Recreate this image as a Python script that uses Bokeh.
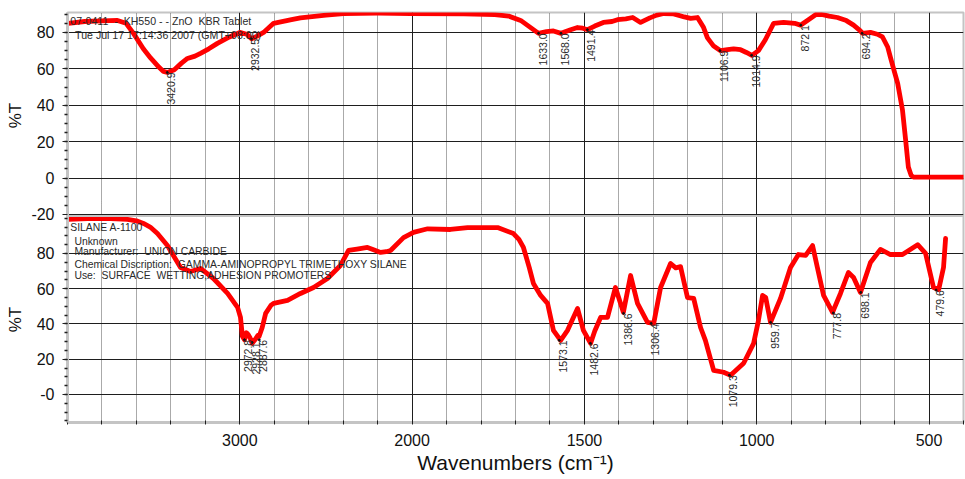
import numpy as np
from math import pi
from bokeh.plotting import figure
from bokeh.models import ColumnDataSource, FixedTicker, Label, Span
from bokeh.core.properties import value
from bokeh.embed import file_html
from bokeh.resources import INLINE

# ---------------- data ----------------
# Upper spectrum: 07-0411 KH550 - ZnO KBr tablet
top_wn = [3996, 3900, 3800, 3710, 3660, 3617, 3560, 3518, 3470, 3443,
          3420, 3380, 3340, 3304, 3260, 3228, 3180, 3130, 3060, 3000,
          2960, 2932, 2900, 2862, 2804, 2700, 2648, 2500, 2398, 2200,
          2010, 1850, 1760, 1720, 1685, 1655, 1633, 1610, 1590, 1568,
          1540, 1520, 1505, 1491, 1470, 1445, 1420, 1404, 1380, 1360,
          1337, 1310, 1290, 1270, 1241, 1210, 1192, 1172, 1155, 1143,
          1125, 1105, 1085, 1067, 1047, 1030, 1014, 995, 975, 951,
          922, 890, 873, 853, 824, 790, 766, 740, 719, 700,
          693, 670, 650, 635, 620, 612, 600, 591, 577, 568,
          560, 552, 545, 500, 400]
top_t = [85, 86, 86.3, 86.6, 85, 79.5, 71, 66, 61, 58.6,
         58, 59.5, 63, 65.7, 67, 68.5, 71, 74, 77.5, 80,
         79, 76.5, 78, 80, 85, 87, 88, 89.5, 90.4, 90.6,
         90.4, 90.2, 89.8, 89, 86.6, 82.5, 79.5, 80.5, 80.8, 79.5,
         81.5, 82.7, 82.3, 81.5, 83.5, 85.5, 86, 87, 87.5, 88.2,
         85.5, 88, 89.5, 90.4, 90.2, 88.5, 87.7, 88.2, 83, 77,
         72.5, 70, 70.5, 71, 70.5, 69, 67.4, 70, 76, 85,
         85.5, 85, 84, 86.6, 90.4, 89, 88.2, 86.5, 84, 81,
         79.5, 80, 79, 77.5, 72, 66.3, 58, 52, 37.3, 21,
         6, 1.5, 0.5, 0.5, 0.5]
top_peak_wn = [3420.9, 2932.5, 1633.0, 1568.0, 1491.4, 1106.9, 1014.9, 872.1, 694.2]
top_peak_t = [58, 76.5, 79.5, 79.5, 81.5, 70, 67.4, 84, 79.5]
top_peak_lab = ["3420.9", "2932.5", "1633.0", "1568.0", "1491.4", "1106.9", "1014.9", "872.1", "694.2"]

# Lower spectrum: SILANE A-1100 (reference library)
bot_wn = [3996, 3884, 3750, 3652, 3600, 3559, 3520, 3478, 3420, 3344,
          3286, 3228, 3153, 3071, 3013, 2996, 2985, 2972.8, 2962, 2952,
          2940, 2928.1, 2912, 2895, 2887.6, 2870, 2850, 2820, 2804, 2723,
          2648, 2572, 2491, 2416, 2369, 2320, 2259, 2220, 2183, 2150,
          2125, 2050, 1996, 1955, 1889, 1839, 1752, 1706, 1690, 1677,
          1660, 1648, 1627, 1607, 1590, 1569, 1549, 1520, 1503, 1482,
          1470, 1453, 1433, 1410, 1387, 1366, 1346, 1317, 1299, 1279,
          1250, 1235, 1221, 1201, 1183, 1163, 1149, 1125, 1096, 1076,
          1038, 1009, 995, 983, 974, 960, 931, 902, 879, 858,
          838, 824, 806, 780, 757, 734, 719, 699, 670, 641,
          612, 577, 533, 510, 487, 472, 458, 452]
bot_t = [99.3, 99.8, 99.8, 99.3, 98.5, 97, 95, 91.3, 84.5, 72,
         69.8, 71.5, 65.8, 57.3, 49.4, 43.7, 33, 31, 35, 34,
         32, 29, 31, 33.5, 33, 38, 46, 50.5, 51.7, 53.4,
         57.3, 60.7, 65.8, 73.2, 81.7, 82.5, 83.4, 82, 80.6, 81,
         81.7, 89, 92, 94, 93.6, 94.7, 94.7, 91.3, 88, 83.4,
         72, 63, 56.2, 51.7, 36.4, 30.7, 36.4, 48.8, 36.4, 29,
         36, 43.7, 43.7, 60.7, 46.6, 67.5, 51.7, 40.9, 40.3, 60.7,
         74.3, 71.8, 72.5, 55, 54.5, 38, 30.7, 13.7, 12.6, 10.9,
         17.7, 29, 42, 56.2, 55, 40.9, 54.5, 72, 79.4, 78.9,
         84.5, 72, 56.2, 46.6, 57.3, 69.2, 66.4, 57.9, 74.9, 82.3,
         79.4, 79.4, 85, 80, 60.7, 59.6, 72, 88.5]
bot_peak_wn = [2972.8, 2928.1, 2887.6, 1573.1, 1482.6, 1386.6, 1306.4, 1079.3, 959.7, 777.8, 698.1, 479.6]
bot_peak_t = [31, 29.5, 31, 30.7, 29, 46, 40.3, 10.9, 40.9, 46.2, 57.9, 59.2]
bot_peak_lab = ["2972.8", "2928.1", "2887.6", "1573.1", "1482.6", "1386.6", "1306.4",
                "1079.3", "959.7", "777.8", "698.1", "479.6"]

NB = "\u00a0"
top_header = ["07-0411" + NB * 2 + "-" + NB * 2 + "KH550 - - ZnO" + NB * 2 + "KBR Tablet",
              "Tue Jul 17 17:14:36 2007 (GMT+08:00)"]
bot_header = ["SILANE A-1100", "Unknown", "Manufacturer:" + NB * 2 + "UNION CARBIDE",
              "Chemical Discription:" + NB * 2 + "GAMMA-AMINOPROPYL TRIMETHOXY SILANE",
              "Use:" + NB * 2 + "SURFACE" + NB * 2 + "WETTING,ADHESION PROMOTERS"]

x_major = [3000, 2000, 1500, 1000, 500]
x_minor = [4000, 3800, 3600, 3400, 3200, 2800, 2600, 2400, 2200,
           1900, 1800, 1700, 1600, 1400, 1300, 1200, 1100,
           900, 800, 700, 600, 400]
y_top_major = [-20, 0, 20, 40, 60, 80]
y_top_labels = ["-20", "0", "20", "40", "60", "80"]
y_bot_major = [0, 20, 40, 60, 80]
y_bot_labels = ["-0", "20", "40", "60", "80"]

assert len(top_wn) == len(top_t)
assert len(bot_wn) == len(bot_t)

# ---------------- axis mappings ----------------
# Spectrometer x axis: 4000-2000 drawn at half the scale of 2000-400.
def axis_pos(w):
    w = np.asarray(w, dtype=float)
    return np.where(w >= 2000, (4000.0 - w) / 2.0, 1000.0 + (2000.0 - w))

# Two stacked %T panels share one frame: the lower panel uses %T directly,
# the upper panel (%T from -20.55 to 90.95) sits above it.
BOT_MIN, BOT_MAX = -15.9, 101.56
TOP_MIN, TOP_MAX = -20.55, 90.95
TOP_K = 1.0326

def bot_y(t):
    return np.asarray(t, dtype=float)

def top_y(t):
    return BOT_MAX + (np.asarray(t, dtype=float) - TOP_MIN) * TOP_K

FONT = "Liberation Sans"
RED = "#ff0000"
GRID = "#1e1e1e"
FRAME = "#c4c4c4"

p = figure(width=965, height=479,
           x_range=(float(axis_pos(4000)), float(axis_pos(400))),
           y_range=(BOT_MIN, float(top_y(TOP_MAX))),
           output_backend="svg", toolbar_location=None,
           min_border_left=67, min_border_right=2,
           min_border_top=12, min_border_bottom=57)
p.background_fill_color = "white"
p.border_fill_color = "white"
p.outline_line_color = FRAME
p.outline_line_width = 2

# x axis
xt = FixedTicker(ticks=[float(v) for v in axis_pos(x_major)],
                 minor_ticks=[float(v) for v in axis_pos(x_minor)])
p.xaxis.ticker = xt
p.xaxis.major_label_overrides = {float(q): str(w) for q, w in zip(axis_pos(x_major), x_major)}
p.xgrid.ticker = xt
p.xgrid.grid_line_color = GRID
p.xgrid.grid_line_width = 1
p.xgrid.minor_grid_line_color = "#555555"
p.xgrid.minor_grid_line_dash = "1 1"
p.xaxis.axis_line_color = FRAME
p.xaxis.axis_line_width = 3
p.xaxis.major_tick_out = 2
p.xaxis.major_tick_in = 4
p.xaxis.minor_tick_out = 2
p.xaxis.minor_tick_in = 2
p.xaxis.major_tick_line_color = GRID
p.xaxis.minor_tick_line_color = GRID
p.xaxis.major_label_text_font = FONT
p.xaxis.major_label_text_font_size = "16px"
p.xaxis.major_label_text_color = "#111111"
p.xaxis.major_label_standoff = 9
p.xaxis.axis_label = "Wavenumbers (cm\u207b\u00b9)"
p.xaxis.axis_label_text_font = FONT
p.xaxis.axis_label_text_font_size = "21px"
p.xaxis.axis_label_text_font_style = "normal"
p.xaxis.axis_label_text_color = "#111111"
p.xaxis.axis_label_standoff = 2

# y axis (both panels)
y_ticks = [float(v) for v in top_y(y_top_major)] + [float(v) for v in bot_y(y_bot_major)]
y_tick_labels = y_top_labels + y_bot_labels
y_minor = ([float(v) for v in top_y(np.arange(-15, 91, 5))] +
           [float(v) for v in bot_y(np.arange(-15, 101, 5))])
yt = FixedTicker(ticks=y_ticks, minor_ticks=y_minor)
p.yaxis.ticker = yt
p.yaxis.major_label_overrides = {q: s for q, s in zip(y_ticks, y_tick_labels)}
p.ygrid.ticker = yt
p.ygrid.grid_line_color = GRID
p.ygrid.grid_line_width = 1
p.yaxis.major_label_text_font = FONT
p.yaxis.major_label_text_font_size = "16px"
p.yaxis.major_label_text_color = "#111111"
p.yaxis.major_label_standoff = 8
p.yaxis.axis_line_color = FRAME
p.yaxis.axis_line_width = 3
p.yaxis.major_tick_out = 5
p.yaxis.major_tick_in = 0
p.yaxis.major_tick_line_color = GRID
p.yaxis.minor_tick_out = 3
p.yaxis.minor_tick_in = 0
p.yaxis.minor_tick_line_color = GRID
p.yaxis.minor_tick_line_width = 1.5
# one "%T" title per panel: the two titles are spaced so they centre on each panel
p.yaxis.axis_label = "%T" + "\u2003" * 10 + "\u2002" + "%T"
p.yaxis.axis_label_text_font = FONT
p.yaxis.axis_label_text_font_size = "17px"
p.yaxis.axis_label_text_font_style = "normal"
p.yaxis.axis_label_text_color = "#111111"
p.yaxis.axis_label_standoff = 3

# boundary between the two panels
p.add_layout(Span(location=float(BOT_MAX) - 0.3, dimension="width",
                  line_color=FRAME, line_width=2))


def add_spectrum(wn, t, pk_wn, pk_t, pk_lab, header, header_pos, header_size, ymap):
    src = ColumnDataSource(dict(x=axis_pos(wn), y=ymap(t)))
    p.line("x", "y", source=src, line_color=RED, line_width=4.8,
           line_join="round", line_cap="round")
    pk = ColumnDataSource(dict(x=axis_pos(pk_wn), y=ymap(pk_t), lab=pk_lab))
    p.scatter("x", "y", source=pk, size=2, color="#111111")
    p.text("x", "y", text="lab", source=pk, angle=pi / 2,
           text_align="right", text_baseline="top",
           text_font=value(FONT), text_font_size="10.5px", text_color="#2a2a2a")
    for txt, (xu, tv) in zip(header, header_pos):
        p.add_layout(Label(x=xu, y=float(ymap(tv)), text=txt, text_font=FONT,
                           text_font_size=header_size, text_color="#2a2a2a",
                           text_baseline="middle"))


add_spectrum(top_wn, top_t, top_peak_wn, top_peak_t, top_peak_lab,
             top_header, [(8, 86.4), (22, 78.5)], "10.6px", top_y)
add_spectrum(bot_wn, bot_t, bot_peak_wn, bot_peak_t, bot_peak_lab,
             bot_header, [(8, 94.8), (20, 86.8), (20, 81.2), (20, 73.8), (20, 67.6)], "10.4px", bot_y)

open("out.html", "w").write(file_html(p, INLINE))
